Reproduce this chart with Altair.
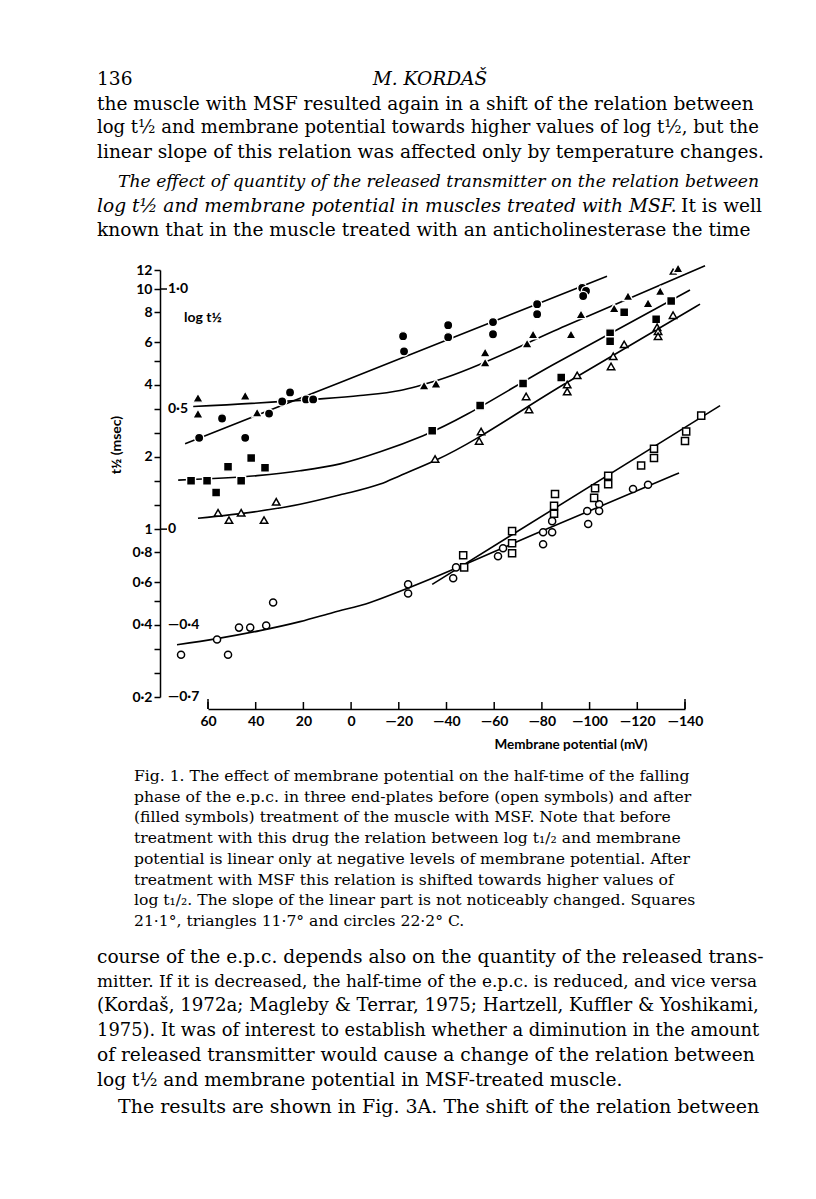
import altair as alt
import pandas as pd

# ---------------- data ----------------
# filled circles (after MSF, 22.2 C)
fc_mv = [63.7, 54.1, 44.4, 34.4, 28.9, 25.6, 18.9, 15.9, -21.8, -22.2, -40.7, -40.7,
         -59.5, -59.5, -78.0, -78.0, -96.9, -98.5, -97.3]
fc_t = [2.40, 2.89, 2.40, 3.03, 3.40, 3.71, 3.47, 3.47, 6.36, 5.50, 7.07, 6.30,
        7.28, 6.48, 8.65, 7.86, 10.1, 9.81, 9.35]
fc_fit_mv = [69.6, 4.6, -107.3]
fc_fit_t = [2.27, 4.08, 11.3]

# filled triangles (after MSF, 11.7 C)
ft_mv = [64.2, 64.2, 44.4, 39.4, -30.6, -35.6, -56.2, -56.2, -76.3, -73.8, -92.2,
         -96.4, -110.3, -116.1, -124.5, -129.6, -135.0, -137.1]
ft_t = [3.53, 3.03, 3.60, 3.06, 3.97, 4.04, 5.45, 4.95, 6.48, 5.94, 6.48,
        7.86, 8.33, 9.35, 8.74, 9.81, 11.9, 12.2]
ft_fit_mv = [66.2, 15.9, -3.8, -20.5, -37.3, -90.0, -148.4]
ft_fit_t = [3.24, 3.47, 3.60, 3.78, 4.20, 7.03, 12.5]

# filled squares (after MSF, 21.1 C)
fs_mv = [67.1, 60.4, 56.6, 51.6, 46.1, 41.9, 36.1, -34.0, -54.1, -72.1, -88.1,
         -108.6, -108.6, -114.5, -127.9, -134.2]
fs_t = [1.59, 1.59, 1.42, 1.82, 1.59, 1.98, 1.80, 2.57, 3.27, 4.04, 4.28,
        6.54, 6.06, 8.01, 7.49, 8.91]
fs_fit_mv = [72.5, 39.4, 21.4, 4.6, -12.2, -30.2, -86.0, -142.1]
fs_fit_t = [1.60, 1.67, 1.75, 1.87, 2.10, 2.45, 4.92, 9.91]

# open triangles (before, 11.7 C)
ot_mv = [55.8, 51.2, 46.1, 36.5, 31.4, -35.2, -54.5, -53.7, -73.4, -74.6, -90.6,
         -90.6, -94.8, -109.9, -109.0, -114.5, -128.3, -128.7, -128.7, -135.0]
ot_t = [1.17, 1.09, 1.17, 1.09, 1.30, 1.96, 2.55, 2.33, 3.57, 3.15, 4.00,
        3.74, 4.37, 5.25, 4.76, 5.88, 6.93, 6.67, 6.36, 7.78]
ot_fit_mv = [64.2, 38.2, 21.4, 4.6, -12.2, -20.5, -35.2, -90.0, -146.3]
ot_fit_t = [1.11, 1.19, 1.27, 1.39, 1.54, 1.67, 1.93, 4.05, 8.65]

# open circles (before, 22.2 C)
oc_mv = [71.3, 56.2, 51.6, 47.0, 42.3, 35.6, 32.7, -23.9, -23.9, -42.8, -44.0,
         -61.6, -63.7, -80.5, -80.5, -84.3, -84.3, -99.0, -99.4, -104.0, -104.0,
         -118.2, -124.5]
oc_t = [0.30, 0.347, 0.30, 0.389, 0.389, 0.397, 0.495, 0.589, 0.540, 0.624, 0.693,
        0.771, 0.833, 0.971, 0.865, 1.08, 0.971, 1.19, 1.05, 1.27, 1.19,
        1.47, 1.53]
oc_fit_mv = [73.0, 56.2, 38.2, 21.4, 7.5, -8.0, -20.5, -80.0, -137.5]
oc_fit_t = [0.330, 0.350, 0.378, 0.412, 0.450, 0.495, 0.551, 0.982, 1.714]

# open squares (before, 21.1 C)
os_mv = [-47.0, -47.4, -67.5, -67.5, -67.5, -85.5, -85.1, -85.1, -102.3, -101.9,
         -107.8, -107.8, -121.6, -127.0, -127.0, -140.5, -140.0, -146.8]
os_t = [0.778, 0.693, 0.981, 0.874, 0.794, 1.40, 1.25, 1.16, 1.48, 1.35,
        1.67, 1.54, 1.84, 2.16, 1.98, 2.55, 2.33, 2.97]
os_fit_mv = [-34.0, -154.7]
os_fit_t = [0.589, 3.27]

# axes
x_ticks = [60, 40, 20, 0, -20, -40, -60, -80, -100, -120, -140]
y_label_vals = [12, 10, 8, 6, 4, 2, 1, 0.8, 0.6, 0.4, 0.2]
y_label_txt = ["12", "10", "8", "6", "4", "2", "1", "0·8", "0·6", "0·4", "0·2"]
y_minor_vals = [5.01, 3.16, 2.51, 1.585, 1.26, 0.501, 0.316, 0.251]
log_label_vals = [10, 3.16, 1, 0.4, 0.2]
log_label_txt = ["1·0", "0·5", "0", "—0·4", "—0·7"]
log_cross_vals = [10, 1]

# page text
header_left = "136"
header_center = "M. KORDAŠ"
top_lines = [
    "the muscle with MSF resulted again in a shift of the relation between",
    "log t½ and membrane potential towards higher values of log t½, but the",
    "linear slope of this relation was affected only by temperature changes.",
]
italic_line1 = "The effect of quantity of the released transmitter on the relation between"
italic_line2 = "log t½ and membrane potential in muscles treated with MSF."
italic_line2_rest = "It is well"
top_last = "known that in the muscle treated with an anticholinesterase the time"
caption_lines = [
    "Fig. 1. The effect of membrane potential on the half-time of the falling",
    "phase of the e.p.c. in three end-plates before (open symbols) and after",
    "(filled symbols) treatment of the muscle with MSF. Note that before",
    "treatment with this drug the relation between log t₁/₂ and membrane",
    "potential is linear only at negative levels of membrane potential. After",
    "treatment with MSF this relation is shifted towards higher values of",
    "log t₁/₂.  The slope of the linear part is not noticeably changed.  Squares",
    "21·1°, triangles 11·7° and circles 22·2° C.",
]
bottom_lines = [
    "course of the e.p.c. depends also on the quantity of the released trans-",
    "mitter. If it is decreased, the half-time of the e.p.c. is reduced, and vice versa",
    "(Kordaš, 1972a; Magleby & Terrar, 1975; Hartzell, Kuffler & Yoshikami,",
    "1975). It was of interest to establish whether a diminution in the amount",
    "of released transmitter would cause a change of the relation between",
    "log t½ and membrane potential in MSF-treated muscle.",
]
bottom_last = "The results are shown in Fig. 3A. The shift of the relation between"

# ---------------- layout (page pixels) ----------------
X0, Y0 = 208, 270          # page position of plot origin
W, H = 477, 427
AX_OFF = 12                # x axis below plot
SANS = "Lato"
SERIF = "DejaVu Serif"
BODY = 18.6
CAP = 15.6
top_sizes = [18.6, 18.0, 18.6]
italic1_size = 17.2
top_last_size = 18.6
bottom_sizes = [18.6, 16.9, 18.2, 17.9, 18.6, 18.6]
bottom_last_size = 19.0

ylab_expr = " : ".join(
    f"datum.value == {v} ? '{t}'" for v, t in zip(y_label_vals, y_label_txt)
) + " : ''"

X = alt.X("mv:Q",
          scale=alt.Scale(domain=[60, -140], nice=False, zero=False),
          axis=alt.Axis(values=x_ticks, title=None, offset=AX_OFF, tickSize=0,
                        labelPadding=5, grid=False, labelOverlap=False,
                        labelFlush=False, labelBound=False,
                        labelExpr="datum.value < 0 ? '—' + (-datum.value) : '' + datum.value"))
Y = alt.Y("t:Q",
          scale=alt.Scale(type="log", domain=[0.2, 12], nice=False),
          axis=alt.Axis(values=y_label_vals + y_minor_vals, title=None, offset=48,
                        tickSize=6, labelPadding=2, grid=False, labelOverlap=False,
                        labelFlush=False, labelBound=False, labelExpr=ylab_expr))


def line(mv, t, interp="monotone"):
    df = pd.DataFrame({"mv": mv, "t": t})
    return alt.Chart(df).mark_line(color="black", strokeWidth=1.6,
                                   interpolate=interp, clip=False).encode(x=X, y=Y)


def pts(mv, t, shape, filled, size):
    df = pd.DataFrame({"mv": mv, "t": t})
    if filled:
        m = alt.Chart(df).mark_point(shape=shape, filled=True, fill="black",
                                     stroke="white", strokeWidth=1.4, size=size,
                                     opacity=1, fillOpacity=1)
    else:
        m = alt.Chart(df).mark_point(shape=shape, filled=True, fill="white",
                                     stroke="black", strokeWidth=1.5, size=size,
                                     opacity=1, fillOpacity=1, strokeOpacity=1)
    return m.encode(x=X, y=Y)


def txt(s, px, py, size, font=SERIF, style="normal", weight="normal",
        align="left", angle=0):
    return alt.Chart(pd.DataFrame({"s": [s]})).mark_text(
        align=align, baseline="middle", font=font, fontSize=size,
        fontStyle=style, fontWeight=weight, angle=angle, color="black"
    ).encode(x=alt.value(px - X0), y=alt.value(py - Y0), text="s:N")


layers = []
# fitted relations
layers += [
    line(fc_fit_mv, fc_fit_t, "linear"),
    line(ft_fit_mv, ft_fit_t),
    line(fs_fit_mv, fs_fit_t),
    line(ot_fit_mv, ot_fit_t),
    line(oc_fit_mv, oc_fit_t),
    line(os_fit_mv, os_fit_t, "linear"),
]
# symbols
layers += [
    pts(fc_mv, fc_t, "circle", True, 85),
    pts(ft_mv, ft_t, "triangle-up", True, 110),
    pts(fs_mv, fs_t, "square", True, 80),
    pts(ot_mv, ot_t, "triangle-up", False, 55),
    pts(oc_mv, oc_t, "circle", False, 50),
    pts(os_mv, os_t, "square", False, 50),
]

# x axis ticks (pointing up from the axis line)
xt = pd.DataFrame({"mv": x_ticks,
                   "len": [9 if v in (60, -140) else 7 for v in x_ticks]})
layers.append(
    alt.Chart(xt).mark_rule(color="black", strokeWidth=1.5).encode(
        x=X, y=alt.value(H + AX_OFF), y2=alt.value(H + AX_OFF - 7))
)
layers.append(
    alt.Chart(xt[xt["len"] == 9]).mark_rule(color="black", strokeWidth=1.5).encode(
        x=X, y=alt.value(H + AX_OFF), y2=alt.value(H + AX_OFF - 10))
)
# right-hand part of crossing ticks on the y axis
layers.append(
    alt.Chart(pd.DataFrame({"t": log_cross_vals})).mark_rule(
        color="black", strokeWidth=1.5).encode(
        y=Y, x=alt.value(160 - X0), x2=alt.value(167 - X0))
)
# log t1/2 scale labels
layers.append(
    alt.Chart(pd.DataFrame({"t": log_label_vals, "lab": log_label_txt})).mark_text(
        align="left", baseline="middle", font=SANS, fontSize=14, fontWeight="bold",
        color="black").encode(
        y=Y, x=alt.value(168 - X0), text="lab:N")
)

# axis titles / inner label
layers += [
    txt("log t½", 184, 318, 14, SANS, weight="bold"),
    txt("t½ (msec)", 117, 445, 14, SANS, weight="bold", align="center", angle=270),
    txt("Membrane potential (mV)", 571, 745, 13.5, SANS, weight="bold", align="center"),
]

# page text
layers += [
    txt(header_left, 97, 79, BODY),
    txt(header_center, 430, 79, BODY, style="italic", align="center"),
]
for i, s in enumerate(top_lines):
    layers.append(txt(s, 97, 104 + 24 * i, top_sizes[i]))
layers += [
    txt(italic_line1, 118, 182, italic1_size, style="italic"),
    txt(italic_line2, 97, 206, BODY, style="italic"),
    txt(italic_line2_rest, 762, 206, BODY, align="right"),
    txt(top_last, 97, 230, top_last_size),
]
for i, s in enumerate(caption_lines):
    layers.append(txt(s, 134, 776 + 20.7 * i, CAP))
for i, s in enumerate(bottom_lines):
    layers.append(txt(s, 97, 957 + 24.6 * i, bottom_sizes[i]))
layers.append(txt(bottom_last, 118, 1107, bottom_last_size))

chart = alt.layer(*layers).properties(
    width=W, height=H,
    autosize=alt.AutoSizeParams(type="none"),
    padding={"left": X0 - 8, "top": Y0 - 8, "right": 800 - (X0 - 8) - W,
             "bottom": 1180 - (Y0 - 8) - H},
    background="white",
).configure_view(stroke=None).configure_axis(
    domainColor="black", domainWidth=1.5, tickColor="black", tickWidth=1.5,
    labelFont=SANS, labelFontSize=14, labelFontWeight="bold", labelColor="black",
)

chart.save("out.html", embed_options={"renderer": "svg", "actions": False})
